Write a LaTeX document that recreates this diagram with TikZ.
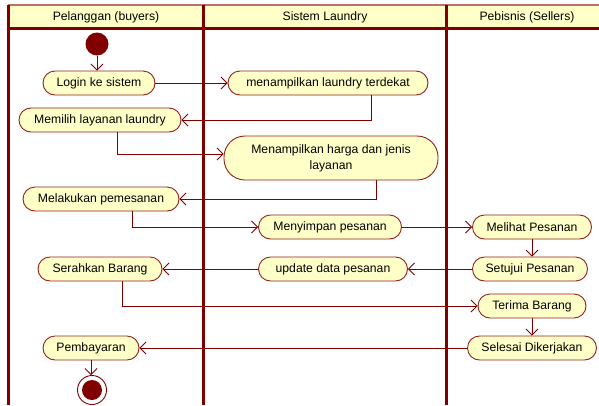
\documentclass[tikz,border=0pt]{standalone}
\usepackage{fontspec}
\setmainfont{Liberation Sans}
\usetikzlibrary{arrows.meta,positioning}
\definecolor{lane}{RGB}{128,0,0}
\definecolor{laneedge}{RGB}{190,110,110}
\definecolor{actfill}{RGB}{255,255,200}
\definecolor{actdraw}{RGB}{150,30,30}

\begin{document}
\begin{tikzpicture}[x=1pt,y=-1pt,
  act/.style={rectangle,draw=actdraw,fill=actfill,line width=0.9pt,
              minimum height=24pt,inner sep=0pt,rounded corners=12pt,
              text centered,font=\fontsize{12.2}{16}\selectfont,text=black},
  head/.style={font=\fontsize{12.2}{14}\selectfont,text=black},
  flow/.style={draw=lane,line width=0.8pt,-{Straight Barb[length=6pt,width=12pt]}},
  divider/.style={draw=lane,line width=3pt}]
  \useasboundingbox (0,0) rectangle (599,405);
  % swimlane frame
  \fill[actfill] (8,5) rectangle (599,28);
  \draw[laneedge,line width=1.5pt] (8,5) -- (599,5);
  \draw[divider] (8,28) -- (599,28);
  \foreach \x in {8,203,446}
    \draw[divider] (\x,5) -- (\x,405);
  \node (h1) [head] at (106,17) {Pelanggan (buyers)};
  \node (h2) [head] at (325,17) {Sistem Laundry};
  \node (h3) [head] at (527,17) {Pebisnis (Sellers)};

  % start / end
  \node (start) [circle,fill=lane,minimum size=23pt,inner sep=0pt] at (97,44) {};
  \node (stop) [circle,draw=lane,fill=white,line width=0.9pt,minimum size=29pt,inner sep=0pt] at (92,390) {};
  \fill[lane] (stop.center) circle (10pt);

  % activities
  \node (login)   [act,minimum width=112pt] at (99,83)  {Login ke sistem};
  \node (tampil)  [act,minimum width=200pt] at (328,83) {menampilkan laundry terdekat};
  \node (pilih)   [act,minimum width=162pt] at (100,120) {Memilih layanan laundry};
  \node (harga)   [act,minimum width=214pt,minimum height=44pt,rounded corners=21pt,
                   align=center] at (331,158) {Menampilkan harga dan jenis\\layanan};
  \node (pesan)   [act,minimum width=156pt] at (101,199) {Melakukan pemesanan};
  \node (simpan)  [act,minimum width=143pt] at (330,227) {Menyimpan pesanan};
  \node (lihat)   [act,minimum width=119pt] at (532,227) {Melihat Pesanan};
  \node (serah)   [act,minimum width=124pt] at (100,269) {Serahkan Barang};
  \node (update)  [act,minimum width=149pt] at (333,269) {update data pesanan};
  \node (setuju)  [act,minimum width=115pt] at (530,269) {Setujui Pesanan};
  \node (terima)  [act,minimum width=108pt] at (532,306) {Terima Barang};
  \node (selesai) [act,minimum width=129pt] at (532,348) {Selesai Dikerjakan};
  \node (bayar)   [act,minimum width=96pt]  at (91,348)  {Pembayaran};

  % flows
  \draw[flow] (start) -- (start |- login.north);
  \draw[flow] (login) -- (tampil);
  \draw[flow] ([xshift=43pt]tampil.south) |- (pilih);
  \draw[flow] ([xshift=17pt]pilih.south) |- ([yshift=4pt]harga.west);
  \draw[flow] ([xshift=45pt]harga.south) |- (pesan);
  \draw[flow] ([xshift=31pt]pesan.south) |- (simpan);
  \draw[flow] (simpan) -- (lihat);
  \draw[flow] (lihat.south) -- (lihat.south |- setuju.north);
  \draw[flow] (setuju) -- (update);
  \draw[flow] (update) -- (serah);
  \draw[flow] ([xshift=22pt]serah.south) |- (terima);
  \draw[flow] (terima.south) -- (terima.south |- selesai.north);
  \draw[flow] (selesai) -- (bayar);
  \draw[flow] (bayar.south) -- (bayar.south |- stop.north);
\end{tikzpicture}
\end{document}
